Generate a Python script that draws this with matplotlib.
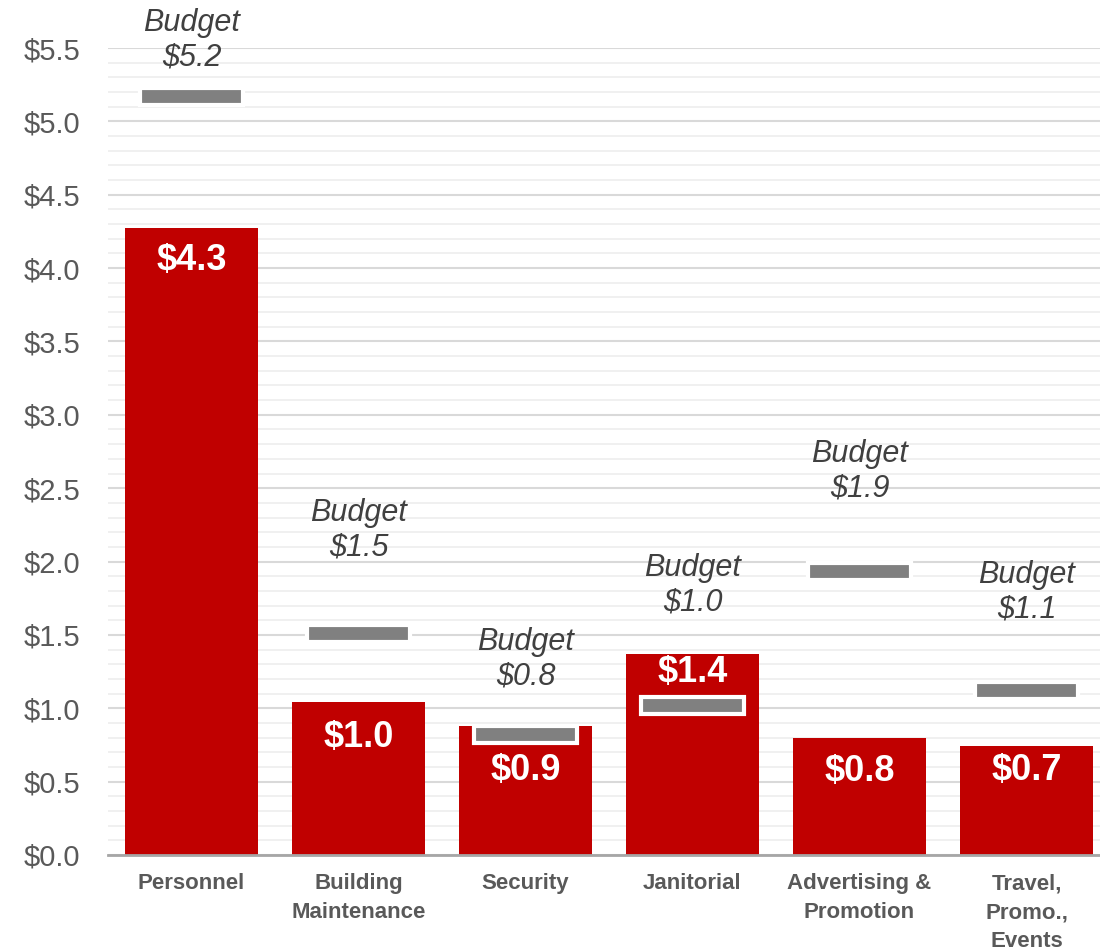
import matplotlib.pyplot as plt
from matplotlib.ticker import MultipleLocator, FuncFormatter

categories = ["Personnel", "Building\nMaintenance", "Security", "Janitorial",
              "Advertising &\nPromotion", "Travel,\nPromo.,\nEvents"]
actual = [4.27, 1.04, 0.88, 1.37, 0.80, 0.74]
budget = [5.17, 1.51, 0.82, 1.02, 1.93, 1.12]

# hand placed label offsets (pixels) like the original slide
budget_label_offset = [56, 103, 75, 120, 101, 98]
value_label_offset = [32, 35, 45, 19, 34, 24]

RED = "#C00000"
GREY = "#808080"

plt.rcParams['font.family'] = ['Liberation Sans', 'DejaVu Sans']

fig = plt.figure(figsize=(11, 9.5), dpi=100)
ax = fig.add_axes([108 / 1100, 95 / 950, 1002 / 1100, 807 / 950])

x = list(range(len(categories)))
ax.bar(x, actual, width=0.8, color=RED, zorder=2)

mark_h = 0.115
ax.bar(x, [mark_h] * len(x), bottom=[b - mark_h / 2 for b in budget], width=0.62,
       color=GREY, edgecolor="white", linewidth=3, zorder=3)

for i in x:
    ax.annotate("$%.1f" % actual[i], xy=(i, actual[i]), xytext=(0, -value_label_offset[i]),
                textcoords='offset pixels', ha='center', va='center',
                color="white", fontsize=26, fontweight='bold', zorder=4)
    ax.annotate("Budget\n$%.1f" % budget[i], xy=(i, budget[i]), xytext=(0, budget_label_offset[i]),
                textcoords='offset pixels', ha='center', va='center',
                color="#404040", fontsize=22, fontstyle='italic', linespacing=1.2,
                annotation_clip=False, zorder=4)

ax.set_xlim(-0.5, 5.5)
ax.set_ylim(0, 5.5)
ax.yaxis.set_major_locator(MultipleLocator(0.5))
ax.yaxis.set_minor_locator(MultipleLocator(0.1))
ax.yaxis.set_major_formatter(FuncFormatter(lambda v, p: "$%.1f" % v))
ax.grid(axis='y', which='major', color="#D9D9D9", linewidth=1.5, zorder=0)
ax.grid(axis='y', which='minor', color="#EDEDED", linewidth=1.2, zorder=0)
ax.set_axisbelow(True)

ax.set_xticks(x)
ax.set_xticklabels(categories, fontsize=16, fontweight='bold', color="#595959", linespacing=1.5)
ax.tick_params(axis='x', length=0, pad=13)
ax.tick_params(axis='y', which='both', length=0, pad=20, labelsize=21, labelcolor="#595959")

for s in ['top', 'right', 'left']:
    ax.spines[s].set_visible(False)
ax.spines['bottom'].set_color("#A6A6A6")
ax.spines['bottom'].set_linewidth(2)

plt.savefig("out.png", dpi=100)
